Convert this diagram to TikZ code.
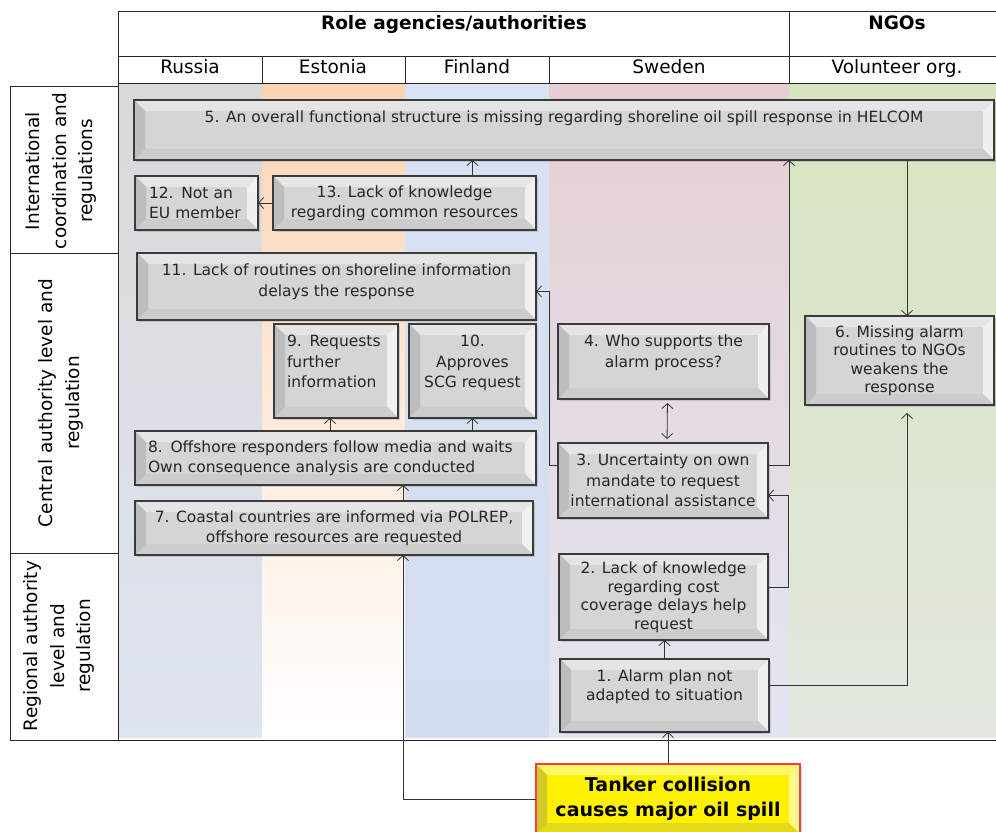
\documentclass[tikz,border=0pt]{standalone}
\usepackage{fontspec}
\setmainfont{DejaVu Sans}
\usepackage{tikz}
\usetikzlibrary{arrows.meta, positioning, shadows}
\definecolor{rusgray}{HTML}{D9D9D9}
\definecolor{rusblue}{HTML}{DEE4F0}
\definecolor{estpeach}{HTML}{FBD4B4}
\definecolor{estlight}{HTML}{FDEBDD}
\definecolor{finblue}{HTML}{DAE3F3}
\definecolor{finblue2}{HTML}{D3DDEF}
\definecolor{swepink}{HTML}{E6CFD3}
\definecolor{sweblue}{HTML}{E2E6F2}
\definecolor{ngogreen}{HTML}{D7E4BD}
\definecolor{ngolight}{HTML}{E2E8E0}
\definecolor{boxface}{HTML}{D5D5D5}
\definecolor{boxline}{HTML}{3B3B3B}
\definecolor{spillred}{HTML}{FF3B3B}
\definecolor{gridline}{HTML}{262626}
\definecolor{linkgray}{HTML}{333333}
\newcommand{\boxfont}{\fontsize{15.5}{20.5}\selectfont}
% bevel faces: top, right, bottom, left
\newcommand{\bevelfaces}[4]{%
  \coordinate (bnw) at (path picture bounding box.north west);
  \coordinate (bne) at (path picture bounding box.north east);
  \coordinate (bse) at (path picture bounding box.south east);
  \coordinate (bsw) at (path picture bounding box.south west);
  \fill[#1] (bnw) -- (bne) -- ([shift={(-11pt,-11pt)}]bne) -- ([shift={(11pt,-11pt)}]bnw) -- cycle;
  \fill[#2] (bne) -- (bse) -- ([shift={(-11pt,11pt)}]bse) -- ([shift={(-11pt,-11pt)}]bne) -- cycle;
  \fill[#3] (bse) -- (bsw) -- ([shift={(11pt,11pt)}]bsw) -- ([shift={(-11pt,11pt)}]bse) -- cycle;
  \fill[#4] (bsw) -- (bnw) -- ([shift={(11pt,-11pt)}]bnw) -- ([shift={(11pt,11pt)}]bsw) -- cycle;
}
\begin{document}
\begin{tikzpicture}[
    x=1pt, y=-1pt,
    grid/.style={draw=gridline, line width=0.9pt},
    hdr/.style={font=\fontsize{18.5}{22}\selectfont, anchor=base, inner sep=0pt},
    rowlabel/.style={font=\fontsize{18.5}{26.5}\selectfont, align=center, rotate=90, inner sep=0pt},
    bevel/.style={draw=boxline, line width=1.8pt, fill=boxface, anchor=north west, inner sep=0pt, outer sep=0pt,
        align=center, text=black!85, font=\boxfont,
        drop shadow={shadow xshift=2pt, shadow yshift=-2pt, opacity=0.3},
        path picture={\bevelfaces{black!10}{black!6}{black!20}{black!26}}},
    spillbox/.style={bevel, draw=spillred, fill=yellow, text=black,
        font=\bfseries\fontsize{19}{25}\selectfont,
        path picture={\bevelfaces{yellow!60!white}{yellow!45!white}{yellow!88!black}{yellow!80!black}}},
    boxtext/.style={font=\boxfont, align=center, anchor=north, inner sep=0pt, text=black!85},
    arrow/.style={-{Straight Barb[length=5pt, width=11pt]}, draw=linkgray, line width=0.8pt},
    dblarrow/.style={{Straight Barb[length=5pt, width=11pt]}-{Straight Barb[length=5pt, width=11pt]}, draw=linkgray, line width=0.8pt}
]
\useasboundingbox (0,0) rectangle (996,832);
\clip (0,0) rectangle (996,832);

% lanes
\shade[top color=rusgray, bottom color=rusblue] (118,84) rectangle (262,737);
\shade[top color=estpeach, middle color=estlight, bottom color=white] (262,84) rectangle (405,737);
\shade[top color=finblue, bottom color=finblue2] (405,84) rectangle (549,737);
\shade[top color=swepink, bottom color=sweblue] (549,84) rectangle (789,737);
\shade[top color=ngogreen, bottom color=ngolight] (789,84) rectangle (996,737);

% header
\draw[grid] (118,11) -- (996,11);
\draw[grid] (118,56) -- (996,56);
\draw[grid] (118,83) -- (996,83);
\draw[grid] (118,11) -- (118,740) -- (996,740);
\draw[grid] (789,11) -- (789,83);
\foreach \xc in {262,405,549}
  \draw[grid] (\xc,56) -- (\xc,83);
\node[hdr, font=\bfseries\fontsize{18.5}{22}\selectfont] (hrole) at (454,30) {Role agencies/authorities};
\node[hdr, font=\bfseries\fontsize{18.5}{22}\selectfont] (hngo) at (897,30) {NGOs};
\node[hdr] (hrus) at (190,74) {Russia};
\node[hdr] (hest) at (333,74) {Estonia};
\node[hdr] (hfin) at (477,74) {Finland};
\node[hdr] (hswe) at (669,74) {Sweden};
\node[hdr] (hvol) at (897,74) {Volunteer org.};

% row labels
\draw[grid] (10,86) rectangle (118,740);
\draw[grid] (10,253) -- (118,253);
\draw[grid] (10,553) -- (118,553);
\node[rowlabel] (rint) at (61,171) {International\\coordination and\\regulations};
\node[rowlabel] (rcen) at (61,403) {Central authority level and\\regulation};
\node[rowlabel] (rreg) at (59,646) {Regional authority\\level and\\regulation};

\coordinate (swe) at (789,83);
\coordinate (ngo) at (907,83);
\coordinate (fin) at (403,83);
\coordinate (est) at (330,83);

% boxes
\node[bevel, minimum width=860pt, minimum height=60pt] (b5) at (134,100) {};
\node[boxtext] (t5) at ([yshift=-11pt]b5.north) {5. An overall functional structure is missing regarding shoreline oil spill response in HELCOM};
\node[bevel, minimum width=123pt, minimum height=54pt, text width=95pt, align=left] (b12) at (135,176) {12. Not an\\EU member};
\node[bevel, minimum width=263pt, minimum height=54pt] (b13) at (273,176) {13. Lack of knowledge\\regarding common resources};
\node[bevel, minimum width=399pt, minimum height=67pt] (b11) at (137,253) {};
\node[boxtext] (t11) at ([yshift=-11pt]b11.north) {11. Lack of routines on shoreline information\\delays the response};
\node[bevel, minimum width=124pt, minimum height=94pt] (b9) at (274,324) {};
\node[boxtext, text width=98pt, align=left] (t9) at ([yshift=-11pt]b9.north) {9. Requests\\further\\information};
\node[bevel, minimum width=127pt, minimum height=94pt] (b10) at (409,324) {};
\node[boxtext] (t10) at ([yshift=-11pt]b10.north) {10.\\Approves\\SCG request};
\node[bevel, minimum width=401pt, minimum height=54pt, text width=375pt, align=left] (b8) at (135,431) {8. Offshore responders follow media and waits\\Own consequence analysis are conducted};
\node[bevel, minimum width=398pt, minimum height=54pt] (b7) at (135,501) {7. Coastal countries are informed via POLREP,\\offshore resources are requested};
\node[bevel, minimum width=211pt, minimum height=75pt] (b4) at (558,324) {};
\node[boxtext] (t4) at ([yshift=-11pt]b4.north) {4. Who supports the\\alarm process?};
\node[bevel, minimum width=210pt, minimum height=75pt] (b3) at (558,443) {3. Uncertainty on own\\mandate to request\\international assistance};
\node[bevel, minimum width=189pt, minimum height=89pt, font=\fontsize{15.5}{18.5}\selectfont] (b6) at (805,316) {6. Missing alarm\\routines to NGOs\\weakens the\\response};
\node[bevel, minimum width=209pt, minimum height=86pt, font=\fontsize{15.5}{18.5}\selectfont] (b2) at (559,554) {2. Lack of knowledge\\regarding cost\\coverage delays help\\request};
\node[bevel, minimum width=209pt, minimum height=73pt] (b1) at (560,659) {};
\node[boxtext, font=\fontsize{15.5}{19}\selectfont] (t1) at ([yshift=-11pt]b1.north) {1. Alarm plan not\\adapted to situation};
\node[spillbox, minimum width=264pt, minimum height=70pt] (spill) at (536,764) {Tanker collision\\causes major oil spill};

% links
\draw[arrow] (spill.north) -- (spill.north |- b1.south);
\draw[arrow] (b1.north) -- (b1.north |- b2.south);
\draw[arrow, shorten >=8pt] ([yshift=10pt]b1.east) -| (b6.south -| ngo);
\draw[arrow] ([yshift=10pt]b2.east) -- ++(20,0) |- ([yshift=-15pt]b3.east);
\draw[dblarrow, shorten <=4pt, shorten >=4pt] ([xshift=4pt]b4.south) -- ([xshift=4pt]b3.north);
\draw[arrow] ([yshift=15pt]b3.east) -| (b5.south -| swe);
\draw[arrow] ([yshift=15pt]b3.west) -- ++(-9,0) |- ([yshift=-5pt]b11.east);
\draw[arrow] (b5.south -| ngo) -- (b6.north -| ngo);
\draw[arrow] (b13.north -| b10) -- (b5.south -| b10);
\draw[arrow] (b13.west) -- (b12.east);
\draw[arrow] (b8.north -| est) -- (b9.south -| est);
\draw[arrow] (b8.north -| b10) -- (b10.south);
\draw[arrow] (b7.north -| fin) -- (b8.south -| fin);
\draw[arrow] (spill.west) -| (b7.south -| fin);
\end{tikzpicture}
\end{document}
